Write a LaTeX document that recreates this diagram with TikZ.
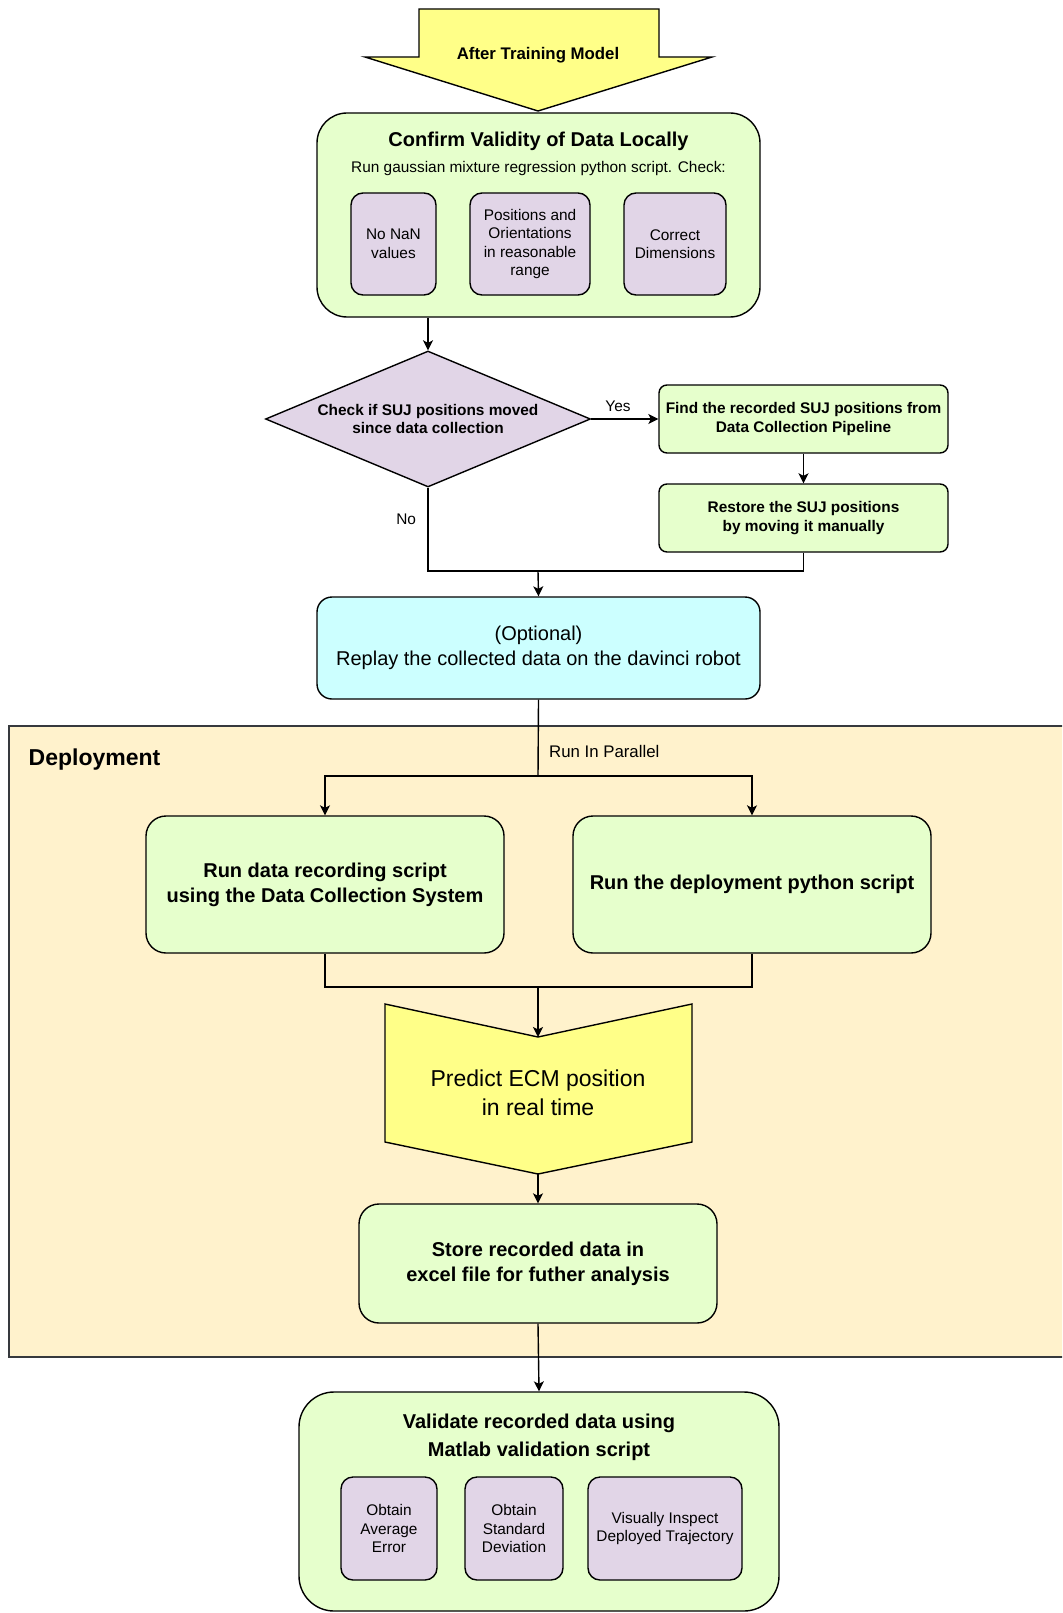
\documentclass[tikz,border=0pt]{standalone}
\usepackage{fontspec}
\setmainfont{Liberation Sans}
\usetikzlibrary{shapes.geometric,arrows.meta}
\definecolor{boxgreen}{HTML}{E6FFCC}
\definecolor{boxpurple}{HTML}{E1D5E7}
\definecolor{boxyellow}{HTML}{FFFF88}
\definecolor{boxcyan}{HTML}{CCFFFF}
\definecolor{deployfill}{HTML}{FFF2CC}
\definecolor{deployline}{HTML}{36393D}

\begin{document}
\begin{tikzpicture}[x=1pt,y=1pt,yscale=-1,xscale=1,
  line width=1.4pt,
  >={Stealth[length=10pt,width=10pt,inset=2.5pt]},
  txts/.style={font=\fontsize{15.4}{18.5}\selectfont},
  txtm/.style={font=\fontsize{16.8}{20}\selectfont},
  txtl/.style={font=\fontsize{20}{25}\selectfont},
  txtxl/.style={font=\fontsize{23}{29}\selectfont},
  greenbox/.style={draw=black,fill=boxgreen,align=center,inner sep=0pt},
  checkbox/.style={draw=black,fill=boxpurple,rounded corners=12pt,align=center,inner sep=0pt,txts}]
\clip (0,0) rectangle (1062,1613);

%Shape: Deployment area
\draw [draw=deployline,fill=deployfill,line width=2pt] (9,726) rectangle (1080,1357);
% Text Node
\node (deploylbl) [anchor=west,inner sep=0pt,txtxl] at (28,760) {\bfseries Deployment};

%Shape: Down arrow
\draw [fill=boxyellow] (419,9) -- (659,9) -- (659,57) -- (712,57) -- (538,111) -- (365,57) -- (419,57) -- cycle;
% Text Node
\node (after) [txtm] at (538,55) {\bfseries After Training Model};

%Shape: Confirm validity container
\node (confirm) [greenbox,rounded corners=30pt,minimum width=443pt,minimum height=204pt] at (538.5,215) {};
\node (confirmtitle) [txtl] at (538.5,141) {\bfseries Confirm Validity of Data Locally};
\node (confirmsub) [txts] at (538.5,169) {Run gaussian mixture regression python script. Check:};
\node (nonan) [checkbox,minimum width=85pt,minimum height=102pt] at (393.5,244) {No NaN\\values};
\node (posrange) [checkbox,minimum width=120pt,minimum height=102pt] at (530,244) {Positions and\\Orientations\\in reasonable\\range};
\node (dims) [checkbox,minimum width=102pt,minimum height=102pt] at (675,244) {Correct\\Dimensions};

%Shape: Diamond
\node (suj) [draw=black,fill=boxpurple,diamond,aspect=2.39,inner sep=0pt,minimum width=325pt,minimum height=136pt,align=center,txts] at (428,419) {\bfseries Check if SUJ positions moved\\\bfseries since data collection};

%Shape: SUJ restore steps
\node (findsuj) [greenbox,rounded corners=8pt,minimum width=289pt,minimum height=68pt,txts] at (803.5,419) {\bfseries Find the recorded SUJ positions from\\\bfseries Data Collection Pipeline};
\node (restore) [greenbox,rounded corners=8pt,minimum width=289pt,minimum height=68pt,txts] at (803.5,518) {\bfseries Restore the SUJ positions\\\bfseries by moving it manually};
\coordinate (join1) at (538,571);

%Shape: Optional replay
\node (optional) [draw=black,fill=boxcyan,rounded corners=15pt,minimum width=443pt,minimum height=102pt,align=center,inner sep=0pt,txtl] at (538.5,648) {(Optional)\\Replay the collected data on the davinci robot};

%Shape: Parallel scripts
\coordinate (split) at (538,776);
\node (record) [greenbox,rounded corners=20pt,minimum width=358pt,minimum height=137pt,txtl] at (325,884.5) {\bfseries Run data recording script\\\bfseries using the Data Collection System};
\node (deploy) [greenbox,rounded corners=20pt,minimum width=358pt,minimum height=137pt,txtl] at (752,884.5) {\bfseries Run the deployment python script};
\coordinate (merge) at (538,987);

%Shape: Predict chevron
\coordinate (notch) at (538,1037);
\coordinate (tip) at (538,1174);
\draw [fill=boxyellow] (385,1004) -- (notch) -- (692,1004) -- (692,1142) -- (tip) -- (385,1142) -- cycle;
\node (predict) [align=center,txtxl] at (538,1093) {Predict ECM position\\in real time};

%Shape: Store data
\node (store) [greenbox,rounded corners=20pt,minimum width=358pt,minimum height=119pt,txtl] at (538,1263.5) {\bfseries Store recorded data in\\\bfseries excel file for futher analysis};

%Shape: Validate container
\node (validate) [greenbox,rounded corners=35pt,minimum width=480pt,minimum height=219pt] at (539,1501.5) {};
\node (valtitle) [align=center,font=\fontsize{20}{28}\selectfont] at (539,1437) {\bfseries Validate recorded data using\\\bfseries Matlab validation script};
\node (avgerr) [checkbox,minimum width=96pt,minimum height=103pt] at (389,1528.5) {Obtain\\Average\\Error};
\node (stddev) [checkbox,minimum width=98pt,minimum height=103pt] at (514,1528.5) {Obtain\\Standard\\Deviation};
\node (inspect) [checkbox,minimum width=154pt,minimum height=103pt] at (665,1528.5) {Visually Inspect\\Deployed Trajectory};

%Connectors
\draw [->] (suj.north |- confirm.south) -- (suj.north);
\draw [->] (suj.east) -- (findsuj.west) node [pos=0.4,above=3pt,txts] (yes) {Yes};
\draw [->] (findsuj) -- (restore);
\draw (suj.south) |- (join1) node [pos=0.19,left=8pt,txts] (no) {No};
\draw (restore.south) |- (join1);
\draw [->] (join1) -- (optional.north);
\draw (optional.south) -- (split) node [pos=0.68,right=7pt,txtm] (parallel) {Run In Parallel};
\draw [->] (split) -| (record.north);
\draw [->] (split) -| (deploy.north);
\draw (record.south) |- (merge);
\draw (deploy.south) |- (merge);
\draw [->] (merge) -- (notch);
\draw [->] (tip) -- (store.north);
\draw [->] (store.south) -- (validate.north);

\end{tikzpicture}
\end{document}
